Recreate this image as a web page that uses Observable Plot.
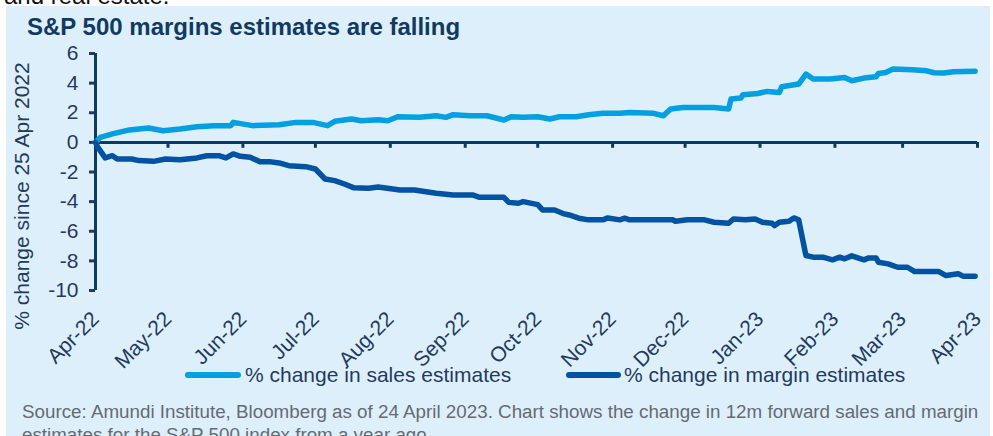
<!DOCTYPE html>
<html>
<head>
<meta charset="utf-8">
<script src="https://cdn.jsdelivr.net/npm/d3@7"></script>
<script src="https://cdn.jsdelivr.net/npm/@observablehq/plot@0.6"></script>
<style>
  html, body { margin: 0; padding: 0; background: #ffffff; width: 993px; height: 436px; overflow: hidden; font-family: "Liberation Sans", Arial, sans-serif; }
  #top { position: absolute; left: 4px; top: -16px; font-size: 24px; line-height: 24px; color: #111; white-space: nowrap; }
  #panel { position: absolute; left: 6px; top: 6px; width: 984px; height: 440px; background: #deeffc; }
  #title { position: absolute; left: 27px; top: 13px; font-size: 24px; line-height: 28px; font-weight: bold; color: #0e3a64; white-space: nowrap; }
  #chart { position: absolute; left: 0; top: 40px; }
  #ylabel { position: absolute; left: 22px; top: 196px; transform: translate(-50%, -50%) rotate(-90deg); font-size: 21px; color: #1f3b61; white-space: nowrap; }
  .leg { position: absolute; top: 363px; font-size: 21px; line-height: 24px; color: #1f3b61; white-space: nowrap; }
  .sw { position: absolute; height: 6px; border-radius: 3px; top: 372px; }
  #caption { position: absolute; left: 22px; top: 400px; font-size: 18.8px; line-height: 23px; color: #646b71; white-space: nowrap; }
  #chart g[aria-label^="y-axis"] line, #chart g[aria-label^="y-axis"] path { stroke-width: 3px; }
</style>
</head>
<body>
<div id="top">and real estate.</div>
<div id="panel"></div>
<div id="title">S&amp;P 500 margins estimates are falling</div>
<div id="ylabel">% change since 25 Apr 2022</div>
<div id="chart"></div>
<div class="sw" id="sw1"></div><div class="leg" id="leg1"></div>
<div class="sw" id="sw2"></div><div class="leg" id="leg2"></div>
<div id="caption">Source: Amundi Institute, Bloomberg as of 24 April 2023. Chart shows the change in 12m forward sales and margin<br>estimates for the S&amp;P 500 index from a year ago</div>
<script>
// ---- data ----
const seriesNames = ["% change in sales estimates", "% change in margin estimates"];
const seriesColors = ["#00a0e3", "#0052a3"];

const salesDates = ["2022-04-25","2022-04-27","2022-05-02","2022-05-09","2022-05-17","2022-05-23","2022-05-30","2022-06-06","2022-06-13","2022-06-20","2022-06-21","2022-06-29","2022-07-10","2022-07-17","2022-07-24","2022-07-30","2022-08-02","2022-08-09","2022-08-13","2022-08-20","2022-08-24","2022-08-28","2022-09-06","2022-09-13","2022-09-17","2022-09-20","2022-09-27","2022-10-04","2022-10-11","2022-10-14","2022-10-19","2022-10-25","2022-10-30","2022-11-03","2022-11-10","2022-11-15","2022-11-21","2022-11-28","2022-12-02","2022-12-12","2022-12-16","2022-12-19","2022-12-24","2023-01-06","2023-01-12","2023-01-13","2023-01-17","2023-01-18","2023-01-24","2023-01-28","2023-02-02","2023-02-03","2023-02-10","2023-02-13","2023-02-16","2023-02-23","2023-03-01","2023-03-04","2023-03-09","2023-03-14","2023-03-15","2023-03-18","2023-03-21","2023-03-29","2023-04-04","2023-04-07","2023-04-11","2023-04-15","2023-04-24"];
const salesValues = [0,0.34,0.57,0.84,0.97,0.79,0.9,1.06,1.13,1.13,1.35,1.13,1.19,1.35,1.35,1.13,1.42,1.58,1.46,1.53,1.46,1.73,1.69,1.8,1.69,1.87,1.8,1.8,1.51,1.73,1.69,1.73,1.58,1.73,1.73,1.87,1.96,1.96,2.02,1.96,1.8,2.25,2.36,2.36,2.25,2.93,2.99,3.22,3.3,3.44,3.37,3.76,3.94,4.61,4.28,4.28,4.38,4.16,4.34,4.43,4.65,4.72,4.95,4.9,4.83,4.7,4.68,4.77,4.81];

const marginDates = ["2022-04-25","2022-04-26","2022-04-29","2022-05-02","2022-05-04","2022-05-10","2022-05-13","2022-05-19","2022-05-24","2022-05-30","2022-06-06","2022-06-10","2022-06-15","2022-06-18","2022-06-21","2022-06-24","2022-06-28","2022-07-02","2022-07-06","2022-07-10","2022-07-14","2022-07-21","2022-07-25","2022-07-29","2022-08-02","2022-08-06","2022-08-10","2022-08-16","2022-08-20","2022-08-29","2022-09-04","2022-09-13","2022-09-20","2022-09-28","2022-10-01","2022-10-11","2022-10-13","2022-10-17","2022-10-19","2022-10-25","2022-10-27","2022-11-01","2022-11-05","2022-11-07","2022-11-11","2022-11-15","2022-11-21","2022-11-23","2022-11-28","2022-11-30","2022-12-02","2022-12-20","2022-12-21","2022-12-26","2023-01-02","2023-01-06","2023-01-12","2023-01-14","2023-01-19","2023-01-23","2023-01-26","2023-01-30","2023-01-31","2023-02-02","2023-02-06","2023-02-08","2023-02-10","2023-02-13","2023-02-16","2023-02-20","2023-02-24","2023-02-27","2023-03-01","2023-03-04","2023-03-09","2023-03-11","2023-03-14","2023-03-15","2023-03-19","2023-03-23","2023-03-27","2023-03-30","2023-04-09","2023-04-12","2023-04-17","2023-04-19","2023-04-24"];
const marginValues = [0,-0.34,-1.05,-0.9,-1.12,-1.12,-1.23,-1.28,-1.12,-1.17,-1.05,-0.9,-0.9,-1.05,-0.78,-0.94,-1.01,-1.3,-1.3,-1.39,-1.57,-1.64,-1.8,-2.47,-2.58,-2.81,-3.07,-3.1,-3.01,-3.21,-3.21,-3.44,-3.55,-3.55,-3.71,-3.71,-4.05,-4.11,-4.0,-4.2,-4.56,-4.56,-4.83,-4.9,-5.12,-5.23,-5.23,-5.1,-5.23,-5.12,-5.23,-5.23,-5.33,-5.23,-5.23,-5.39,-5.46,-5.17,-5.23,-5.17,-5.39,-5.46,-5.62,-5.39,-5.33,-5.1,-5.23,-7.64,-7.75,-7.75,-7.93,-7.75,-7.86,-7.66,-7.93,-7.8,-7.8,-8.09,-8.2,-8.43,-8.43,-8.72,-8.72,-8.99,-8.87,-9.03,-9.03];

const xTickDates = ["2022-04-25","2022-05-25","2022-06-25","2022-07-25","2022-08-25","2022-09-25","2022-10-25","2022-11-25","2022-12-25","2023-01-25","2023-02-25","2023-03-25","2023-04-25"];
const xTickLabels = ["Apr-22","May-22","Jun-22","Jul-22","Aug-22","Sep-22","Oct-22","Nov-22","Dec-22","Jan-23","Feb-23","Mar-23","Apr-23"];
const yTicks = [-10,-8,-6,-4,-2,0,2,4,6];
const yTickLabels = ["-10","-8","-6","-4","-2","0","2","4","6"];
const yDomain = [-10, 6];

// ---- build ----
const parse = d3.utcParse("%Y-%m-%d");
const sales = salesDates.map((d, i) => ({date: parse(d), value: salesValues[i]}));
const margin = marginDates.map((d, i) => ({date: parse(d), value: marginValues[i]}));
const ticks = xTickDates.map(parse);
const labelOf = new Map(ticks.map((t, i) => [+t, xTickLabels[i]]));
const yLabelOf = new Map(yTicks.map((t, i) => [t, yTickLabels[i]]));
const navy = "#0b3a62";

const chart = Plot.plot({
  width: 993,
  height: 320,
  marginLeft: 95,
  marginRight: 16,
  marginTop: 13,
  marginBottom: 70,
  style: {background: "transparent", color: "#1f3b61", fontSize: "21px", fontFamily: "'Liberation Sans', Arial, sans-serif", overflow: "visible"},
  x: {type: "utc", domain: [ticks[0], ticks[ticks.length - 1]], ticks: ticks, tickFormat: d => labelOf.get(+d), tickRotate: -45, tickSize: 0, tickPadding: 25, label: null},
  y: {domain: yDomain, ticks: yTicks, tickFormat: d => yLabelOf.get(d), tickSize: 6, tickPadding: 11, label: null},
  marks: [
    Plot.ruleY([0], {stroke: navy, strokeWidth: 3}),
    Plot.ruleX(ticks, {x: d => d, y1: 0, y2: -0.4, stroke: navy, strokeWidth: 3}),
    Plot.ruleX([ticks[0]], {x: d => d, y1: yDomain[0], y2: yDomain[1], stroke: navy, strokeWidth: 3}),
    Plot.line(sales, {x: "date", y: "value", stroke: seriesColors[0], strokeWidth: 5.5, strokeLinejoin: "round", strokeLinecap: "round"}),
    Plot.line(margin, {x: "date", y: "value", stroke: seriesColors[1], strokeWidth: 5.5, strokeLinejoin: "round", strokeLinecap: "round"})
  ]
});
document.getElementById("chart").appendChild(chart);

// legend
const legX = [[185, 241, 245], [566, 621, 624]];
[0, 1].forEach(i => {
  const sw = document.getElementById("sw" + (i + 1));
  sw.style.left = legX[i][0] + "px";
  sw.style.width = (legX[i][1] - legX[i][0]) + "px";
  sw.style.background = seriesColors[i];
  const lg = document.getElementById("leg" + (i + 1));
  lg.style.left = legX[i][2] + "px";
  lg.textContent = seriesNames[i];
});
</script>
</body>
</html>
